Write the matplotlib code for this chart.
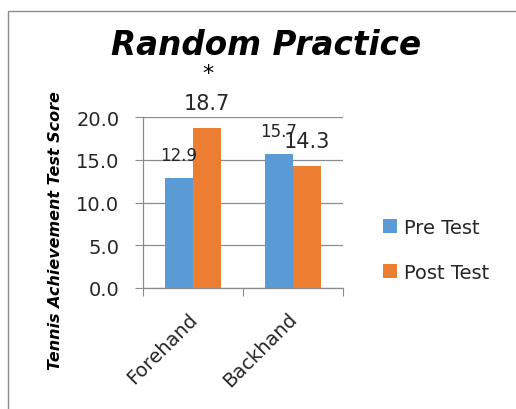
import matplotlib
matplotlib.use("Agg")
import matplotlib.pyplot as plt
import matplotlib.transforms as mtransforms
from matplotlib.patches import Rectangle
import numpy as np

categories = ["Forehand", "Backhand"]
pre_test = [12.9, 15.7]
post_test = [18.7, 14.3]
series_names = ["Pre Test", "Post Test"]
yticks = [0.0, 5.0, 10.0, 15.0, 20.0]

W, H = 516, 410
fig = plt.figure(figsize=(W / 100, H / 100), dpi=100)
txt = "#262626"
grid = "#8c8c8c"

def fx(px):
    return px / W

def fy(py):
    return 1 - py / H

ax = fig.add_axes([fx(143), fy(289), fx(343) - fx(143), fy(118) - fy(289)])
x = np.arange(len(categories))
w = 0.28
blue, orange = "#5B9BD5", "#ED7D31"
b1 = ax.bar(x - w / 2, pre_test, w, color=blue, label=series_names[0], zorder=3)
b2 = ax.bar(x + w / 2, post_test, w, color=orange, label=series_names[1], zorder=3)

ax.set_xlim(-0.5, 1.5)
ax.set_ylim(0, 20)
ax.set_yticks(yticks)
ax.set_yticklabels([f"{v:.1f}" for v in yticks], fontsize=14, color=txt)
ax.yaxis.grid(True, color=grid, linewidth=0.9, zorder=0)
ax.tick_params(axis="y", length=6, color=grid, pad=11)
ax.set_xticks([-0.5, 0.5, 1.5])
ax.set_xticklabels([])
ax.set_xticks(x, minor=True)
ax.set_xticklabels(categories, minor=True, rotation=45, ha="right", va="top",
                   rotation_mode="anchor", fontsize=14, color=txt)
ax.tick_params(axis="x", which="major", length=6, color=grid)
ax.tick_params(axis="x", which="minor", length=0, pad=15)
shift = mtransforms.ScaledTranslation(-4 / 72, 0, fig.dpi_scale_trans)
for lab in ax.get_xticklabels(minor=True):
    lab.set_transform(lab.get_transform() + shift)
for s in ["top", "right"]:
    ax.spines[s].set_visible(False)
for s in ["left", "bottom"]:
    ax.spines[s].set_color(grid)
    ax.spines[s].set_linewidth(0.9)

# data labels
def lab(xv, yv, size, off):
    ax.annotate(f"{yv}", (xv, yv), xytext=(0, off), textcoords="offset points",
                ha="center", va="baseline", fontsize=size, color=txt)

lab(x[0] - w / 2, pre_test[0], 12, 12.5)
lab(x[0] + w / 2, post_test[0], 15, 13.5)
lab(x[1] - w / 2, pre_test[1], 12, 12.5)
lab(x[1] + w / 2, post_test[1], 15, 13.5)

ax.set_ylabel("Tennis Achievement Test Score", fontsize=11.5, fontweight="bold",
              fontstyle="italic", color="black")
ax.yaxis.set_label_coords((63 - 143) / 200, (289 - 231) / 171)

fig.text(fx(266), fy(55), "Random Practice", ha="center", va="baseline", fontsize=23.5,
         fontweight="bold", fontstyle="italic", color="black")
fig.text(fx(208), fy(80), "*", ha="center", va="baseline", fontsize=16, color="black")

leg = fig.legend(handles=[b1, b2], labels=series_names, loc="center left",
                 bbox_to_anchor=(fx(383), fy(251)), frameon=False,
                 prop={"size": 14}, handlelength=0.72, handleheight=0.72,
                 handletextpad=0.36, labelspacing=1.35, borderpad=0, borderaxespad=0)
for t in leg.get_texts():
    t.set_color(txt)

fig.patches.append(Rectangle((fx(8), -0.05), 1.1, fy(12) + 0.05, transform=fig.transFigure,
                             fill=False, edgecolor=grid, linewidth=1.0))
fig.savefig("out.png", dpi=100)
